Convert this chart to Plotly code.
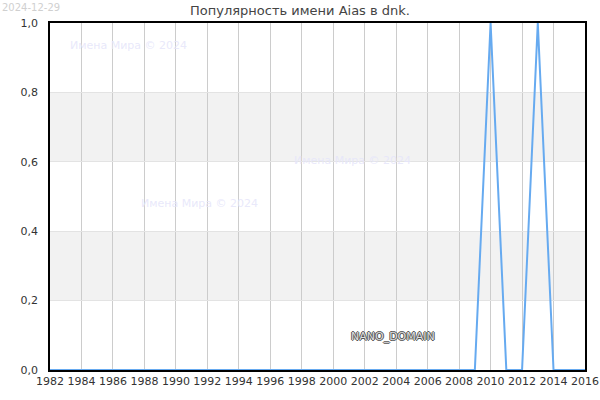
import plotly.graph_objects as go

years = list(range(1982, 2017))
values = [0]*28 + [1, 0, 0, 1, 0, 0, 0]  # 1982..2009 zeros, 2010=1, 2011=0, 2012=0, 2013=1, 2014..2016=0
x_ticks = list(range(1982, 2017, 2))
y_ticks = [0, 0.2, 0.4, 0.6, 0.8, 1.0]
bands = [(0.2, 0.4), (0.6, 0.8)]
title_text = "Популярность имени Aias в dnk."
date_text = "2024-12-29"
watermark = "Имена Мира © 2024"
watermark_pos = [(1987.0, 0.935), (2001.2, 0.605), (1991.5, 0.481)]

fig = go.Figure()
fig.add_trace(go.Scatter(x=years, y=values, mode="lines", cliponaxis=False,
                         line=dict(color="#66aaf0", width=2), hoverinfo="skip"))

for y0, y1 in bands:
    fig.add_shape(type="rect", xref="x", yref="y", x0=1982, x1=2016, y0=y0, y1=y1,
                  fillcolor="#f2f2f2", line_width=0, layer="below")

for (wx, wy) in watermark_pos:
    fig.add_annotation(x=wx, y=wy, xref="x", yref="y", text=watermark, showarrow=False,
                       font=dict(family="DejaVu Sans", size=11, color="rgba(230,230,250,0.9)"))

fig.add_annotation(x=2003.8, y=0.097, xref="x", yref="y", text="NANO_DOMAIN", showarrow=False,
                   font=dict(family="DejaVu Sans", size=11, color="#dddddd",
                             shadow="-1px 0 #555, 1px 0 #555, 0 -1px #555, 0 1px #555"))

fig.add_annotation(x=0, y=1, xref="paper", yref="paper", xanchor="left", yanchor="top",
                   xshift=-50, yshift=23, text=date_text, showarrow=False,
                   font=dict(family="DejaVu Sans", size=10, color="#d0d0d0"))

fig.update_layout(
    width=600, height=400,
    margin=dict(l=50, r=15, t=23, b=30, autoexpand=False),
    paper_bgcolor="white", plot_bgcolor="white",
    separators=", ",
    showlegend=False,
    title=dict(text=title_text, x=0.5, xanchor="center", y=0.975, yanchor="middle",
               automargin=False,
               font=dict(family="DejaVu Sans", size=13, color="#444444")),
    font=dict(family="DejaVu Sans", size=11, color="#333333"),
    xaxis=dict(range=[1982, 2016], tickvals=x_ticks, ticktext=[str(t) for t in x_ticks],
               showgrid=True, gridcolor="#cccccc", gridwidth=1, zeroline=False,
               showline=True, linecolor="black", linewidth=1.5, mirror=True,
               layer="below traces",
               automargin=False, ticks="", tickfont=dict(size=11, color="#333333")),
    yaxis=dict(range=[0, 1], tickvals=y_ticks, tickformat=".1f",
               showgrid=True, gridcolor="#e3e3e3", gridwidth=1, zeroline=False,
               showline=True, linecolor="black", linewidth=1.5, mirror=True,
               ticklabelstandoff=8, layer="below traces",
               automargin=False, ticks="", tickfont=dict(size=11, color="#333333")),
)

fig.write_html("out.html", config={"displayModeBar": False},
               post_script="document.body.style.margin='0';document.body.style.overflow='hidden';")
